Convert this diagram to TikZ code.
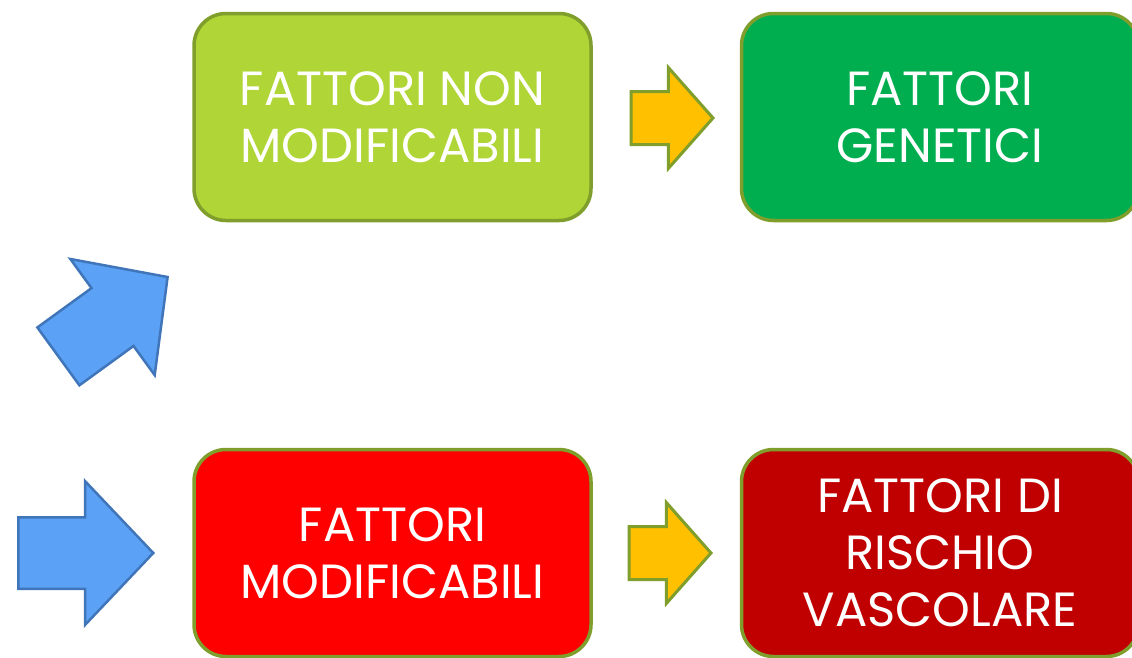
\documentclass[tikz,border=0pt]{standalone}
\usepackage{fontspec}
\setmainfont{Poppins}
\usetikzlibrary{shapes.arrows}

\definecolor{limegreen}{HTML}{B0D536}
\definecolor{darkgreen}{HTML}{00AE50}
\definecolor{brightred}{HTML}{FF0000}
\definecolor{darkred}{HTML}{C00000}
\definecolor{olive}{HTML}{7F9E2B}
\definecolor{arrowblue}{HTML}{5BA1F5}
\definecolor{edgeblue}{HTML}{4076B9}
\definecolor{arrowyellow}{HTML}{FFC000}

\begin{document}
\begin{tikzpicture}[x=1pt,y=-1pt,
        factor/.style={draw=olive,line width=3.5pt,rounded corners=32pt,
          minimum width=397pt,minimum height=207pt,text=white,
          align=center,font=\fontsize{48}{57}\selectfont},
        bluearrow/.style={single arrow,draw=edgeblue,fill=arrowblue,line width=2.5pt,
          minimum height=135pt,single arrow head extend=36pt,
          single arrow tip angle=93,inner xsep=0pt,inner ysep=34.5pt},
        yellowarrow/.style={single arrow,draw=olive,fill=arrowyellow,line width=3pt,
          minimum height=82pt,single arrow head extend=24pt,
          single arrow tip angle=97,inner xsep=0pt,inner ysep=25pt}]

  \useasboundingbox (0,0) rectangle (1132,657);
  \clip (0,0) rectangle (1132,657);

  \node[factor,fill=limegreen] (nonmod) at (392.5,117) {FATTORI NON\\MODIFICABILI};
  \node[factor,fill=darkgreen] (genetici) at (940,117) {FATTORI\\GENETICI};
  \node[factor,fill=brightred] (mod) at (392.5,553) {FATTORI\\MODIFICABILI};
  \node[factor,fill=darkred] (vascolare) at (940,553) {FATTORI DI\\RISCHIO\\VASCOLARE};

  \node[yellowarrow,anchor=tip] (toGen) at (715,118) {};
  \node[yellowarrow,anchor=tip] (toVasc) at (713,553) {};

  \node[bluearrow,anchor=tip,rotate=36] (up) at (169,276) {};
  \node[bluearrow,anchor=tip] (right) at (155,553) {};

\end{tikzpicture}
\end{document}
